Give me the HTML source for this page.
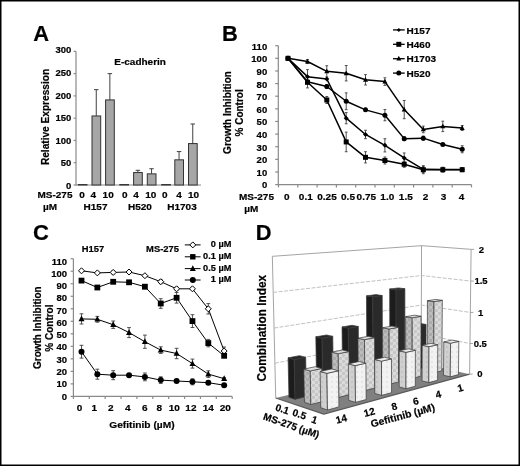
<!DOCTYPE html>
<html><head><meta charset="utf-8"><style>
html,body{margin:0;padding:0;background:#fff;}
#f{position:relative;width:520px;height:466px;overflow:hidden;background:#fff;}
svg{position:absolute;left:0;top:0;}
text{font-family:"Liberation Sans",sans-serif;font-weight:bold;fill:#000;stroke:#000;stroke-width:0.2px;}
svg{will-change:transform;}
</style></head><body><div id="f">
<svg width="520" height="466" viewBox="0 0 520 466">
<rect x="0.75" y="0.75" width="518.5" height="464.5" fill="#fff" stroke="#000" stroke-width="1.5"/>
<text x="33.25" y="40.80" font-size="21.9" text-anchor="start">A</text>
<line x1="76.00" y1="51.35" x2="76.00" y2="185.50" stroke="#8a8a8a" stroke-width="1.2"/>
<line x1="76.00" y1="185.00" x2="201.00" y2="185.00" stroke="#8a8a8a" stroke-width="1.2"/>
<line x1="73.60" y1="185.00" x2="76.00" y2="185.00" stroke="#8a8a8a" stroke-width="1.2"/>
<text x="71.30" y="189.05" font-size="9.5" text-anchor="end">0</text>
<line x1="73.60" y1="162.72" x2="76.00" y2="162.72" stroke="#8a8a8a" stroke-width="1.2"/>
<text x="71.30" y="166.44" font-size="9.5" text-anchor="end">50</text>
<line x1="73.60" y1="140.45" x2="76.00" y2="140.45" stroke="#8a8a8a" stroke-width="1.2"/>
<text x="71.30" y="143.83" font-size="9.5" text-anchor="end">100</text>
<line x1="73.60" y1="118.17" x2="76.00" y2="118.17" stroke="#8a8a8a" stroke-width="1.2"/>
<text x="71.30" y="121.22" font-size="9.5" text-anchor="end">150</text>
<line x1="73.60" y1="95.90" x2="76.00" y2="95.90" stroke="#8a8a8a" stroke-width="1.2"/>
<text x="71.30" y="98.61" font-size="9.5" text-anchor="end">200</text>
<line x1="73.60" y1="73.62" x2="76.00" y2="73.62" stroke="#8a8a8a" stroke-width="1.2"/>
<text x="71.30" y="76.00" font-size="9.5" text-anchor="end">250</text>
<line x1="73.60" y1="51.35" x2="76.00" y2="51.35" stroke="#8a8a8a" stroke-width="1.2"/>
<text x="71.30" y="53.39" font-size="9.5" text-anchor="end">300</text>
<text x="45.60" y="117.00" font-size="10.15" text-anchor="middle" transform="rotate(-90 45.6 117)" dy="3.5">Relative Expression</text>
<text transform="translate(114.30,64.50) scale(1,0.92)" font-size="10" text-anchor="start">E-cadherin</text>
<rect x="78.30" y="184.55" width="8.70" height="0.45" fill="#a6a6a6" stroke="#333" stroke-width="1"/>
<line x1="96.25" y1="89.66" x2="96.25" y2="115.95" stroke="#404040" stroke-width="1"/>
<line x1="94.00" y1="89.66" x2="98.50" y2="89.66" stroke="#404040" stroke-width="1"/>
<rect x="92.00" y="115.95" width="8.70" height="69.05" fill="#a6a6a6" stroke="#333" stroke-width="1"/>
<line x1="109.85" y1="73.62" x2="109.85" y2="99.91" stroke="#404040" stroke-width="1"/>
<line x1="107.60" y1="73.62" x2="112.10" y2="73.62" stroke="#404040" stroke-width="1"/>
<rect x="105.60" y="99.91" width="8.70" height="85.09" fill="#a6a6a6" stroke="#333" stroke-width="1"/>
<rect x="119.80" y="184.55" width="8.70" height="0.45" fill="#a6a6a6" stroke="#333" stroke-width="1"/>
<line x1="137.85" y1="170.30" x2="137.85" y2="172.53" stroke="#404040" stroke-width="1"/>
<line x1="135.60" y1="170.30" x2="140.10" y2="170.30" stroke="#404040" stroke-width="1"/>
<rect x="133.60" y="172.53" width="8.70" height="12.47" fill="#a6a6a6" stroke="#333" stroke-width="1"/>
<line x1="151.55" y1="168.74" x2="151.55" y2="173.86" stroke="#404040" stroke-width="1"/>
<line x1="149.30" y1="168.74" x2="153.80" y2="168.74" stroke="#404040" stroke-width="1"/>
<rect x="147.30" y="173.86" width="8.70" height="11.14" fill="#a6a6a6" stroke="#333" stroke-width="1"/>
<rect x="161.70" y="184.55" width="8.70" height="0.45" fill="#a6a6a6" stroke="#333" stroke-width="1"/>
<line x1="179.05" y1="151.59" x2="179.05" y2="159.83" stroke="#404040" stroke-width="1"/>
<line x1="176.80" y1="151.59" x2="181.30" y2="151.59" stroke="#404040" stroke-width="1"/>
<rect x="174.80" y="159.83" width="8.70" height="25.17" fill="#a6a6a6" stroke="#333" stroke-width="1"/>
<line x1="192.75" y1="123.97" x2="192.75" y2="143.57" stroke="#404040" stroke-width="1"/>
<line x1="190.50" y1="123.97" x2="195.00" y2="123.97" stroke="#404040" stroke-width="1"/>
<rect x="188.50" y="143.57" width="8.70" height="41.43" fill="#a6a6a6" stroke="#333" stroke-width="1"/>
<text transform="translate(37.50,197.80) scale(1,0.92)" font-size="10" text-anchor="start">MS-275</text>
<text transform="translate(82.15,197.80) scale(1,0.92)" font-size="10" text-anchor="middle">0</text>
<text transform="translate(93.20,197.80) scale(1,0.92)" font-size="10" text-anchor="middle">4</text>
<text transform="translate(108.15,197.80) scale(1,0.92)" font-size="10" text-anchor="middle">10</text>
<text transform="translate(124.70,197.80) scale(1,0.92)" font-size="10" text-anchor="middle">0</text>
<text transform="translate(136.10,197.80) scale(1,0.92)" font-size="10" text-anchor="middle">4</text>
<text transform="translate(150.80,197.80) scale(1,0.92)" font-size="10" text-anchor="middle">10</text>
<text transform="translate(164.70,197.80) scale(1,0.92)" font-size="10" text-anchor="middle">0</text>
<text transform="translate(179.00,197.80) scale(1,0.92)" font-size="10" text-anchor="middle">4</text>
<text transform="translate(193.60,197.80) scale(1,0.92)" font-size="10" text-anchor="middle">10</text>
<text transform="translate(43.00,210.20) scale(1,0.92)" font-size="10" text-anchor="start">µM</text>
<text transform="translate(95.50,209.80) scale(1,0.92)" font-size="10" text-anchor="middle">H157</text>
<text transform="translate(139.90,209.80) scale(1,0.92)" font-size="10" text-anchor="middle">H520</text>
<text transform="translate(182.00,209.80) scale(1,0.92)" font-size="10" text-anchor="middle">H1703</text>
<text x="222.00" y="40.80" font-size="21.9" text-anchor="start">B</text>
<line x1="278.30" y1="45.70" x2="278.30" y2="185.20" stroke="#8a8a8a" stroke-width="1.2"/>
<line x1="278.30" y1="184.60" x2="471.50" y2="184.60" stroke="#8a8a8a" stroke-width="1.2"/>
<line x1="275.20" y1="184.60" x2="278.30" y2="184.60" stroke="#8a8a8a" stroke-width="1.2"/>
<text x="267.20" y="188.40" font-size="9.5" text-anchor="end">0</text>
<line x1="275.20" y1="171.97" x2="278.30" y2="171.97" stroke="#8a8a8a" stroke-width="1.2"/>
<text x="267.20" y="175.79" font-size="9.5" text-anchor="end">10</text>
<line x1="275.20" y1="159.35" x2="278.30" y2="159.35" stroke="#8a8a8a" stroke-width="1.2"/>
<text x="267.20" y="163.18" font-size="9.5" text-anchor="end">20</text>
<line x1="275.20" y1="146.72" x2="278.30" y2="146.72" stroke="#8a8a8a" stroke-width="1.2"/>
<text x="267.20" y="150.57" font-size="9.5" text-anchor="end">30</text>
<line x1="275.20" y1="134.09" x2="278.30" y2="134.09" stroke="#8a8a8a" stroke-width="1.2"/>
<text x="267.20" y="137.96" font-size="9.5" text-anchor="end">40</text>
<line x1="275.20" y1="121.47" x2="278.30" y2="121.47" stroke="#8a8a8a" stroke-width="1.2"/>
<text x="267.20" y="125.36" font-size="9.5" text-anchor="end">50</text>
<line x1="275.20" y1="108.84" x2="278.30" y2="108.84" stroke="#8a8a8a" stroke-width="1.2"/>
<text x="267.20" y="112.75" font-size="9.5" text-anchor="end">60</text>
<line x1="275.20" y1="96.21" x2="278.30" y2="96.21" stroke="#8a8a8a" stroke-width="1.2"/>
<text x="267.20" y="100.14" font-size="9.5" text-anchor="end">70</text>
<line x1="275.20" y1="83.58" x2="278.30" y2="83.58" stroke="#8a8a8a" stroke-width="1.2"/>
<text x="267.20" y="87.53" font-size="9.5" text-anchor="end">80</text>
<line x1="275.20" y1="70.96" x2="278.30" y2="70.96" stroke="#8a8a8a" stroke-width="1.2"/>
<text x="267.20" y="74.92" font-size="9.5" text-anchor="end">90</text>
<line x1="275.20" y1="58.33" x2="278.30" y2="58.33" stroke="#8a8a8a" stroke-width="1.2"/>
<text x="267.20" y="62.31" font-size="9.5" text-anchor="end">100</text>
<line x1="275.20" y1="45.70" x2="278.30" y2="45.70" stroke="#8a8a8a" stroke-width="1.2"/>
<text x="267.20" y="49.70" font-size="9.5" text-anchor="end">110</text>
<line x1="278.50" y1="184.60" x2="278.50" y2="187.40" stroke="#8a8a8a" stroke-width="1.2"/>
<line x1="297.80" y1="184.60" x2="297.80" y2="187.40" stroke="#8a8a8a" stroke-width="1.2"/>
<line x1="317.10" y1="184.60" x2="317.10" y2="187.40" stroke="#8a8a8a" stroke-width="1.2"/>
<line x1="336.40" y1="184.60" x2="336.40" y2="187.40" stroke="#8a8a8a" stroke-width="1.2"/>
<line x1="355.70" y1="184.60" x2="355.70" y2="187.40" stroke="#8a8a8a" stroke-width="1.2"/>
<line x1="375.00" y1="184.60" x2="375.00" y2="187.40" stroke="#8a8a8a" stroke-width="1.2"/>
<line x1="394.30" y1="184.60" x2="394.30" y2="187.40" stroke="#8a8a8a" stroke-width="1.2"/>
<line x1="413.60" y1="184.60" x2="413.60" y2="187.40" stroke="#8a8a8a" stroke-width="1.2"/>
<line x1="432.90" y1="184.60" x2="432.90" y2="187.40" stroke="#8a8a8a" stroke-width="1.2"/>
<line x1="452.20" y1="184.60" x2="452.20" y2="187.40" stroke="#8a8a8a" stroke-width="1.2"/>
<line x1="471.50" y1="184.60" x2="471.50" y2="187.40" stroke="#8a8a8a" stroke-width="1.2"/>
<text transform="translate(286.80,200.00) scale(1,0.92)" font-size="10" text-anchor="middle">0</text>
<text transform="translate(305.80,200.00) scale(1,0.92)" font-size="10" text-anchor="middle">0.1</text>
<text transform="translate(327.00,200.00) scale(1,0.92)" font-size="10" text-anchor="middle">0.25</text>
<text transform="translate(348.00,200.00) scale(1,0.92)" font-size="10" text-anchor="middle">0.5</text>
<text transform="translate(366.30,200.00) scale(1,0.92)" font-size="10" text-anchor="middle">0.75</text>
<text transform="translate(387.30,200.00) scale(1,0.92)" font-size="10" text-anchor="middle">1.0</text>
<text transform="translate(405.80,200.00) scale(1,0.92)" font-size="10" text-anchor="middle">1.5</text>
<text transform="translate(425.50,200.00) scale(1,0.92)" font-size="10" text-anchor="middle">2</text>
<text transform="translate(443.50,200.00) scale(1,0.92)" font-size="10" text-anchor="middle">3</text>
<text transform="translate(461.60,200.00) scale(1,0.92)" font-size="10" text-anchor="middle">4</text>
<text transform="translate(239.00,200.00) scale(1,0.92)" font-size="10" text-anchor="start">MS-275</text>
<text transform="translate(244.30,212.30) scale(1,0.92)" font-size="10" text-anchor="start">µM</text>
<text x="227.60" y="112.50" font-size="10" text-anchor="middle" transform="rotate(-90 227.6 112.5)" dy="3.5">Growth Inhibition</text>
<text x="239.80" y="112.90" font-size="10" text-anchor="middle" transform="rotate(-90 239.8 112.9)" dy="3.5">% Control</text>
<line x1="307.50" y1="69.64" x2="307.50" y2="83.64" stroke="#404040" stroke-width="0.9"/>
<line x1="306.10" y1="69.64" x2="308.90" y2="69.64" stroke="#404040" stroke-width="0.9"/>
<line x1="306.10" y1="83.64" x2="308.90" y2="83.64" stroke="#404040" stroke-width="0.9"/>
<line x1="346.20" y1="112.58" x2="346.20" y2="123.78" stroke="#404040" stroke-width="0.9"/>
<line x1="344.80" y1="112.58" x2="347.60" y2="112.58" stroke="#404040" stroke-width="0.9"/>
<line x1="344.80" y1="123.78" x2="347.60" y2="123.78" stroke="#404040" stroke-width="0.9"/>
<line x1="365.50" y1="130.27" x2="365.50" y2="138.67" stroke="#404040" stroke-width="0.9"/>
<line x1="364.10" y1="130.27" x2="366.90" y2="130.27" stroke="#404040" stroke-width="0.9"/>
<line x1="364.10" y1="138.67" x2="366.90" y2="138.67" stroke="#404040" stroke-width="0.9"/>
<line x1="384.90" y1="138.73" x2="384.90" y2="151.93" stroke="#404040" stroke-width="0.9"/>
<line x1="383.50" y1="138.73" x2="386.30" y2="138.73" stroke="#404040" stroke-width="0.9"/>
<line x1="383.50" y1="151.93" x2="386.30" y2="151.93" stroke="#404040" stroke-width="0.9"/>
<line x1="404.20" y1="152.96" x2="404.20" y2="162.96" stroke="#404040" stroke-width="0.9"/>
<line x1="402.80" y1="152.96" x2="405.60" y2="152.96" stroke="#404040" stroke-width="0.9"/>
<line x1="402.80" y1="162.96" x2="405.60" y2="162.96" stroke="#404040" stroke-width="0.9"/>
<line x1="423.30" y1="166.32" x2="423.30" y2="172.32" stroke="#404040" stroke-width="0.9"/>
<line x1="421.90" y1="166.32" x2="424.70" y2="166.32" stroke="#404040" stroke-width="0.9"/>
<line x1="421.90" y1="172.32" x2="424.70" y2="172.32" stroke="#404040" stroke-width="0.9"/>
<line x1="307.50" y1="76.72" x2="307.50" y2="87.92" stroke="#404040" stroke-width="0.9"/>
<line x1="306.10" y1="76.72" x2="308.90" y2="76.72" stroke="#404040" stroke-width="0.9"/>
<line x1="306.10" y1="87.92" x2="308.90" y2="87.92" stroke="#404040" stroke-width="0.9"/>
<line x1="326.80" y1="96.50" x2="326.80" y2="103.50" stroke="#404040" stroke-width="0.9"/>
<line x1="325.40" y1="96.50" x2="328.20" y2="96.50" stroke="#404040" stroke-width="0.9"/>
<line x1="325.40" y1="103.50" x2="328.20" y2="103.50" stroke="#404040" stroke-width="0.9"/>
<line x1="346.20" y1="132.12" x2="346.20" y2="151.72" stroke="#404040" stroke-width="0.9"/>
<line x1="344.80" y1="132.12" x2="347.60" y2="132.12" stroke="#404040" stroke-width="0.9"/>
<line x1="344.80" y1="151.72" x2="347.60" y2="151.72" stroke="#404040" stroke-width="0.9"/>
<line x1="365.50" y1="151.73" x2="365.50" y2="162.93" stroke="#404040" stroke-width="0.9"/>
<line x1="364.10" y1="151.73" x2="366.90" y2="151.73" stroke="#404040" stroke-width="0.9"/>
<line x1="364.10" y1="162.93" x2="366.90" y2="162.93" stroke="#404040" stroke-width="0.9"/>
<line x1="384.90" y1="156.98" x2="384.90" y2="163.98" stroke="#404040" stroke-width="0.9"/>
<line x1="383.50" y1="156.98" x2="386.30" y2="156.98" stroke="#404040" stroke-width="0.9"/>
<line x1="383.50" y1="163.98" x2="386.30" y2="163.98" stroke="#404040" stroke-width="0.9"/>
<line x1="404.20" y1="161.27" x2="404.20" y2="167.27" stroke="#404040" stroke-width="0.9"/>
<line x1="402.80" y1="161.27" x2="405.60" y2="161.27" stroke="#404040" stroke-width="0.9"/>
<line x1="402.80" y1="167.27" x2="405.60" y2="167.27" stroke="#404040" stroke-width="0.9"/>
<line x1="423.30" y1="165.70" x2="423.30" y2="173.70" stroke="#404040" stroke-width="0.9"/>
<line x1="421.90" y1="165.70" x2="424.70" y2="165.70" stroke="#404040" stroke-width="0.9"/>
<line x1="421.90" y1="173.70" x2="424.70" y2="173.70" stroke="#404040" stroke-width="0.9"/>
<line x1="442.80" y1="167.20" x2="442.80" y2="172.20" stroke="#404040" stroke-width="0.9"/>
<line x1="441.40" y1="167.20" x2="444.20" y2="167.20" stroke="#404040" stroke-width="0.9"/>
<line x1="441.40" y1="172.20" x2="444.20" y2="172.20" stroke="#404040" stroke-width="0.9"/>
<line x1="462.20" y1="167.70" x2="462.20" y2="171.70" stroke="#404040" stroke-width="0.9"/>
<line x1="460.80" y1="167.70" x2="463.60" y2="167.70" stroke="#404040" stroke-width="0.9"/>
<line x1="460.80" y1="171.70" x2="463.60" y2="171.70" stroke="#404040" stroke-width="0.9"/>
<line x1="307.50" y1="59.49" x2="307.50" y2="63.49" stroke="#404040" stroke-width="0.9"/>
<line x1="306.10" y1="59.49" x2="308.90" y2="59.49" stroke="#404040" stroke-width="0.9"/>
<line x1="306.10" y1="63.49" x2="308.90" y2="63.49" stroke="#404040" stroke-width="0.9"/>
<line x1="326.80" y1="65.74" x2="326.80" y2="76.94" stroke="#404040" stroke-width="0.9"/>
<line x1="325.40" y1="65.74" x2="328.20" y2="65.74" stroke="#404040" stroke-width="0.9"/>
<line x1="325.40" y1="76.94" x2="328.20" y2="76.94" stroke="#404040" stroke-width="0.9"/>
<line x1="346.20" y1="65.53" x2="346.20" y2="80.93" stroke="#404040" stroke-width="0.9"/>
<line x1="344.80" y1="65.53" x2="347.60" y2="65.53" stroke="#404040" stroke-width="0.9"/>
<line x1="344.80" y1="80.93" x2="347.60" y2="80.93" stroke="#404040" stroke-width="0.9"/>
<line x1="365.50" y1="74.60" x2="365.50" y2="85.00" stroke="#404040" stroke-width="0.9"/>
<line x1="364.10" y1="74.60" x2="366.90" y2="74.60" stroke="#404040" stroke-width="0.9"/>
<line x1="364.10" y1="85.00" x2="366.90" y2="85.00" stroke="#404040" stroke-width="0.9"/>
<line x1="384.90" y1="77.76" x2="384.90" y2="85.36" stroke="#404040" stroke-width="0.9"/>
<line x1="383.50" y1="77.76" x2="386.30" y2="77.76" stroke="#404040" stroke-width="0.9"/>
<line x1="383.50" y1="85.36" x2="386.30" y2="85.36" stroke="#404040" stroke-width="0.9"/>
<line x1="404.20" y1="100.50" x2="404.20" y2="118.70" stroke="#404040" stroke-width="0.9"/>
<line x1="402.80" y1="100.50" x2="405.60" y2="100.50" stroke="#404040" stroke-width="0.9"/>
<line x1="402.80" y1="118.70" x2="405.60" y2="118.70" stroke="#404040" stroke-width="0.9"/>
<line x1="423.30" y1="126.12" x2="423.30" y2="132.72" stroke="#404040" stroke-width="0.9"/>
<line x1="421.90" y1="126.12" x2="424.70" y2="126.12" stroke="#404040" stroke-width="0.9"/>
<line x1="421.90" y1="132.72" x2="424.70" y2="132.72" stroke="#404040" stroke-width="0.9"/>
<line x1="442.80" y1="121.19" x2="442.80" y2="131.59" stroke="#404040" stroke-width="0.9"/>
<line x1="441.40" y1="121.19" x2="444.20" y2="121.19" stroke="#404040" stroke-width="0.9"/>
<line x1="441.40" y1="131.59" x2="444.20" y2="131.59" stroke="#404040" stroke-width="0.9"/>
<line x1="462.20" y1="125.53" x2="462.20" y2="130.53" stroke="#404040" stroke-width="0.9"/>
<line x1="460.80" y1="125.53" x2="463.60" y2="125.53" stroke="#404040" stroke-width="0.9"/>
<line x1="460.80" y1="130.53" x2="463.60" y2="130.53" stroke="#404040" stroke-width="0.9"/>
<line x1="326.80" y1="84.49" x2="326.80" y2="88.49" stroke="#404040" stroke-width="0.9"/>
<line x1="325.40" y1="84.49" x2="328.20" y2="84.49" stroke="#404040" stroke-width="0.9"/>
<line x1="325.40" y1="88.49" x2="328.20" y2="88.49" stroke="#404040" stroke-width="0.9"/>
<line x1="346.20" y1="92.86" x2="346.20" y2="109.66" stroke="#404040" stroke-width="0.9"/>
<line x1="344.80" y1="92.86" x2="347.60" y2="92.86" stroke="#404040" stroke-width="0.9"/>
<line x1="344.80" y1="109.66" x2="347.60" y2="109.66" stroke="#404040" stroke-width="0.9"/>
<line x1="365.50" y1="108.35" x2="365.50" y2="111.35" stroke="#404040" stroke-width="0.9"/>
<line x1="364.10" y1="108.35" x2="366.90" y2="108.35" stroke="#404040" stroke-width="0.9"/>
<line x1="364.10" y1="111.35" x2="366.90" y2="111.35" stroke="#404040" stroke-width="0.9"/>
<line x1="384.90" y1="109.55" x2="384.90" y2="120.75" stroke="#404040" stroke-width="0.9"/>
<line x1="383.50" y1="109.55" x2="386.30" y2="109.55" stroke="#404040" stroke-width="0.9"/>
<line x1="383.50" y1="120.75" x2="386.30" y2="120.75" stroke="#404040" stroke-width="0.9"/>
<line x1="404.20" y1="136.64" x2="404.20" y2="140.64" stroke="#404040" stroke-width="0.9"/>
<line x1="402.80" y1="136.64" x2="405.60" y2="136.64" stroke="#404040" stroke-width="0.9"/>
<line x1="402.80" y1="140.64" x2="405.60" y2="140.64" stroke="#404040" stroke-width="0.9"/>
<line x1="423.30" y1="136.13" x2="423.30" y2="140.13" stroke="#404040" stroke-width="0.9"/>
<line x1="421.90" y1="136.13" x2="424.70" y2="136.13" stroke="#404040" stroke-width="0.9"/>
<line x1="421.90" y1="140.13" x2="424.70" y2="140.13" stroke="#404040" stroke-width="0.9"/>
<line x1="442.80" y1="143.57" x2="442.80" y2="145.57" stroke="#404040" stroke-width="0.9"/>
<line x1="441.40" y1="143.57" x2="444.20" y2="143.57" stroke="#404040" stroke-width="0.9"/>
<line x1="441.40" y1="145.57" x2="444.20" y2="145.57" stroke="#404040" stroke-width="0.9"/>
<line x1="462.20" y1="145.74" x2="462.20" y2="152.74" stroke="#404040" stroke-width="0.9"/>
<line x1="460.80" y1="145.74" x2="463.60" y2="145.74" stroke="#404040" stroke-width="0.9"/>
<line x1="460.80" y1="152.74" x2="463.60" y2="152.74" stroke="#404040" stroke-width="0.9"/>
<polyline points="288.00,58.33 307.50,76.64 326.80,79.04 346.20,118.18 365.50,134.47 384.90,145.33 404.20,157.96 423.30,169.32 442.80,169.45 462.20,169.45" fill="none" stroke="#000" stroke-width="1.5" stroke-linejoin="round"/>
<polygon points="288.00,55.83 290.50,58.33 288.00,60.83 285.50,58.33" fill="#000" stroke="none" stroke-width="1" stroke-linejoin="round"/>
<polygon points="307.50,74.14 310.00,76.64 307.50,79.14 305.00,76.64" fill="#000" stroke="none" stroke-width="1" stroke-linejoin="round"/>
<polygon points="326.80,76.54 329.30,79.04 326.80,81.54 324.30,79.04" fill="#000" stroke="none" stroke-width="1" stroke-linejoin="round"/>
<polygon points="346.20,115.68 348.70,118.18 346.20,120.68 343.70,118.18" fill="#000" stroke="none" stroke-width="1" stroke-linejoin="round"/>
<polygon points="365.50,131.97 368.00,134.47 365.50,136.97 363.00,134.47" fill="#000" stroke="none" stroke-width="1" stroke-linejoin="round"/>
<polygon points="384.90,142.83 387.40,145.33 384.90,147.83 382.40,145.33" fill="#000" stroke="none" stroke-width="1" stroke-linejoin="round"/>
<polygon points="404.20,155.46 406.70,157.96 404.20,160.46 401.70,157.96" fill="#000" stroke="none" stroke-width="1" stroke-linejoin="round"/>
<polygon points="423.30,166.82 425.80,169.32 423.30,171.82 420.80,169.32" fill="#000" stroke="none" stroke-width="1" stroke-linejoin="round"/>
<polygon points="442.80,166.95 445.30,169.45 442.80,171.95 440.30,169.45" fill="#000" stroke="none" stroke-width="1" stroke-linejoin="round"/>
<polygon points="462.20,166.95 464.70,169.45 462.20,171.95 459.70,169.45" fill="#000" stroke="none" stroke-width="1" stroke-linejoin="round"/>
<polyline points="288.00,58.33 307.50,82.32 326.80,100.00 346.20,141.92 365.50,157.33 384.90,160.48 404.20,164.27 423.30,169.70 442.80,169.70 462.20,169.70" fill="none" stroke="#000" stroke-width="1.5" stroke-linejoin="round"/>
<rect x="285.50" y="55.83" width="5.00" height="5.00" fill="#000" stroke="none" stroke-width="1"/>
<rect x="305.00" y="79.82" width="5.00" height="5.00" fill="#000" stroke="none" stroke-width="1"/>
<rect x="324.30" y="97.50" width="5.00" height="5.00" fill="#000" stroke="none" stroke-width="1"/>
<rect x="343.70" y="139.42" width="5.00" height="5.00" fill="#000" stroke="none" stroke-width="1"/>
<rect x="363.00" y="154.83" width="5.00" height="5.00" fill="#000" stroke="none" stroke-width="1"/>
<rect x="382.40" y="157.98" width="5.00" height="5.00" fill="#000" stroke="none" stroke-width="1"/>
<rect x="401.70" y="161.77" width="5.00" height="5.00" fill="#000" stroke="none" stroke-width="1"/>
<rect x="420.80" y="167.20" width="5.00" height="5.00" fill="#000" stroke="none" stroke-width="1"/>
<rect x="440.30" y="167.20" width="5.00" height="5.00" fill="#000" stroke="none" stroke-width="1"/>
<rect x="459.70" y="167.20" width="5.00" height="5.00" fill="#000" stroke="none" stroke-width="1"/>
<polyline points="288.00,58.33 307.50,61.49 326.80,71.34 346.20,73.23 365.50,79.80 384.90,81.56 404.20,109.60 423.30,129.42 442.80,126.39 462.20,128.03" fill="none" stroke="#000" stroke-width="1.5" stroke-linejoin="round"/>
<polygon points="288.00,55.48 290.50,60.23 285.50,60.23" fill="#000" stroke="none" stroke-width="1" stroke-linejoin="round"/>
<polygon points="307.50,58.64 310.00,63.39 305.00,63.39" fill="#000" stroke="none" stroke-width="1" stroke-linejoin="round"/>
<polygon points="326.80,68.49 329.30,73.24 324.30,73.24" fill="#000" stroke="none" stroke-width="1" stroke-linejoin="round"/>
<polygon points="346.20,70.38 348.70,75.13 343.70,75.13" fill="#000" stroke="none" stroke-width="1" stroke-linejoin="round"/>
<polygon points="365.50,76.95 368.00,81.70 363.00,81.70" fill="#000" stroke="none" stroke-width="1" stroke-linejoin="round"/>
<polygon points="384.90,78.71 387.40,83.46 382.40,83.46" fill="#000" stroke="none" stroke-width="1" stroke-linejoin="round"/>
<polygon points="404.20,106.75 406.70,111.50 401.70,111.50" fill="#000" stroke="none" stroke-width="1" stroke-linejoin="round"/>
<polygon points="423.30,126.57 425.80,131.32 420.80,131.32" fill="#000" stroke="none" stroke-width="1" stroke-linejoin="round"/>
<polygon points="442.80,123.54 445.30,128.29 440.30,128.29" fill="#000" stroke="none" stroke-width="1" stroke-linejoin="round"/>
<polygon points="462.20,125.18 464.70,129.93 459.70,129.93" fill="#000" stroke="none" stroke-width="1" stroke-linejoin="round"/>
<polyline points="288.00,58.33 307.50,81.82 326.80,86.49 346.20,101.26 365.50,109.85 384.90,115.15 404.20,138.64 423.30,138.13 442.80,144.57 462.20,149.24" fill="none" stroke="#000" stroke-width="1.5" stroke-linejoin="round"/>
<circle cx="288.00" cy="58.33" r="2.50" fill="#000"/>
<circle cx="307.50" cy="81.82" r="2.50" fill="#000"/>
<circle cx="326.80" cy="86.49" r="2.50" fill="#000"/>
<circle cx="346.20" cy="101.26" r="2.50" fill="#000"/>
<circle cx="365.50" cy="109.85" r="2.50" fill="#000"/>
<circle cx="384.90" cy="115.15" r="2.50" fill="#000"/>
<circle cx="404.20" cy="138.64" r="2.50" fill="#000"/>
<circle cx="423.30" cy="138.13" r="2.50" fill="#000"/>
<circle cx="442.80" cy="144.57" r="2.50" fill="#000"/>
<circle cx="462.20" cy="149.24" r="2.50" fill="#000"/>
<line x1="393.00" y1="29.90" x2="404.70" y2="29.90" stroke="#000" stroke-width="1.3"/>
<polygon points="398.80,27.90 400.80,29.90 398.80,31.90 396.80,29.90" fill="#000" stroke="none" stroke-width="1" stroke-linejoin="round"/>
<text transform="translate(406.60,33.50) scale(1,0.92)" font-size="10" text-anchor="start">H157</text>
<line x1="393.00" y1="44.30" x2="404.70" y2="44.30" stroke="#000" stroke-width="1.3"/>
<rect x="396.30" y="41.80" width="5.00" height="5.00" fill="#000" stroke="none" stroke-width="1"/>
<text transform="translate(406.60,47.90) scale(1,0.92)" font-size="10" text-anchor="start">H460</text>
<line x1="393.00" y1="58.70" x2="404.70" y2="58.70" stroke="#000" stroke-width="1.3"/>
<polygon points="398.80,55.85 401.30,60.60 396.30,60.60" fill="#000" stroke="none" stroke-width="1" stroke-linejoin="round"/>
<text transform="translate(406.60,62.30) scale(1,0.92)" font-size="10" text-anchor="start">H1703</text>
<line x1="393.00" y1="73.10" x2="404.70" y2="73.10" stroke="#000" stroke-width="1.3"/>
<circle cx="398.80" cy="73.10" r="2.50" fill="#000"/>
<text transform="translate(406.60,76.70) scale(1,0.92)" font-size="10" text-anchor="start">H520</text>
<text x="32.90" y="240.30" font-size="22" text-anchor="start">C</text>
<line x1="73.40" y1="258.70" x2="73.40" y2="397.00" stroke="#8a8a8a" stroke-width="1.2"/>
<line x1="73.40" y1="396.40" x2="232.20" y2="396.40" stroke="#8a8a8a" stroke-width="1.2"/>
<line x1="70.60" y1="396.40" x2="73.40" y2="396.40" stroke="#8a8a8a" stroke-width="1.2"/>
<text x="67.10" y="399.60" font-size="9.5" text-anchor="end">0</text>
<line x1="70.60" y1="383.88" x2="73.40" y2="383.88" stroke="#8a8a8a" stroke-width="1.2"/>
<text x="67.10" y="387.32" font-size="9.5" text-anchor="end">10</text>
<line x1="70.60" y1="371.36" x2="73.40" y2="371.36" stroke="#8a8a8a" stroke-width="1.2"/>
<text x="67.10" y="375.04" font-size="9.5" text-anchor="end">20</text>
<line x1="70.60" y1="358.85" x2="73.40" y2="358.85" stroke="#8a8a8a" stroke-width="1.2"/>
<text x="67.10" y="362.76" font-size="9.5" text-anchor="end">30</text>
<line x1="70.60" y1="346.33" x2="73.40" y2="346.33" stroke="#8a8a8a" stroke-width="1.2"/>
<text x="67.10" y="350.48" font-size="9.5" text-anchor="end">40</text>
<line x1="70.60" y1="333.81" x2="73.40" y2="333.81" stroke="#8a8a8a" stroke-width="1.2"/>
<text x="67.10" y="338.20" font-size="9.5" text-anchor="end">50</text>
<line x1="70.60" y1="321.29" x2="73.40" y2="321.29" stroke="#8a8a8a" stroke-width="1.2"/>
<text x="67.10" y="325.92" font-size="9.5" text-anchor="end">60</text>
<line x1="70.60" y1="308.77" x2="73.40" y2="308.77" stroke="#8a8a8a" stroke-width="1.2"/>
<text x="67.10" y="313.64" font-size="9.5" text-anchor="end">70</text>
<line x1="70.60" y1="296.26" x2="73.40" y2="296.26" stroke="#8a8a8a" stroke-width="1.2"/>
<text x="67.10" y="301.36" font-size="9.5" text-anchor="end">80</text>
<line x1="70.60" y1="283.74" x2="73.40" y2="283.74" stroke="#8a8a8a" stroke-width="1.2"/>
<text x="67.10" y="289.08" font-size="9.5" text-anchor="end">90</text>
<line x1="70.60" y1="271.22" x2="73.40" y2="271.22" stroke="#8a8a8a" stroke-width="1.2"/>
<text x="67.10" y="276.80" font-size="9.5" text-anchor="end">100</text>
<line x1="70.60" y1="258.70" x2="73.40" y2="258.70" stroke="#8a8a8a" stroke-width="1.2"/>
<text x="67.10" y="264.52" font-size="9.5" text-anchor="end">110</text>
<line x1="73.40" y1="396.40" x2="73.40" y2="398.90" stroke="#8a8a8a" stroke-width="1.2"/>
<line x1="89.28" y1="396.40" x2="89.28" y2="398.90" stroke="#8a8a8a" stroke-width="1.2"/>
<line x1="105.16" y1="396.40" x2="105.16" y2="398.90" stroke="#8a8a8a" stroke-width="1.2"/>
<line x1="121.04" y1="396.40" x2="121.04" y2="398.90" stroke="#8a8a8a" stroke-width="1.2"/>
<line x1="136.92" y1="396.40" x2="136.92" y2="398.90" stroke="#8a8a8a" stroke-width="1.2"/>
<line x1="152.80" y1="396.40" x2="152.80" y2="398.90" stroke="#8a8a8a" stroke-width="1.2"/>
<line x1="168.68" y1="396.40" x2="168.68" y2="398.90" stroke="#8a8a8a" stroke-width="1.2"/>
<line x1="184.56" y1="396.40" x2="184.56" y2="398.90" stroke="#8a8a8a" stroke-width="1.2"/>
<line x1="200.44" y1="396.40" x2="200.44" y2="398.90" stroke="#8a8a8a" stroke-width="1.2"/>
<line x1="216.32" y1="396.40" x2="216.32" y2="398.90" stroke="#8a8a8a" stroke-width="1.2"/>
<line x1="232.20" y1="396.40" x2="232.20" y2="398.90" stroke="#8a8a8a" stroke-width="1.2"/>
<text transform="translate(79.50,411.20) scale(1,0.92)" font-size="10" text-anchor="middle">0</text>
<text transform="translate(94.30,411.20) scale(1,0.92)" font-size="10" text-anchor="middle">1</text>
<text transform="translate(110.80,411.20) scale(1,0.92)" font-size="10" text-anchor="middle">2</text>
<text transform="translate(127.80,411.20) scale(1,0.92)" font-size="10" text-anchor="middle">4</text>
<text transform="translate(144.70,411.20) scale(1,0.92)" font-size="10" text-anchor="middle">6</text>
<text transform="translate(159.40,411.20) scale(1,0.92)" font-size="10" text-anchor="middle">8</text>
<text transform="translate(174.20,411.20) scale(1,0.92)" font-size="10" text-anchor="middle">10</text>
<text transform="translate(190.90,411.20) scale(1,0.92)" font-size="10" text-anchor="middle">12</text>
<text transform="translate(208.30,411.20) scale(1,0.92)" font-size="10" text-anchor="middle">14</text>
<text transform="translate(225.20,411.20) scale(1,0.92)" font-size="10" text-anchor="middle">20</text>
<text transform="translate(141.90,428.20) scale(1,0.92)" font-size="10.2" text-anchor="middle">Gefitinib (µM)</text>
<text x="37.80" y="327.65" font-size="10" text-anchor="middle" transform="rotate(-90 37.8 327.65)" dy="3.5">Growth Inhibition</text>
<text x="49.80" y="328.10" font-size="10" text-anchor="middle" transform="rotate(-90 49.8 328.1)" dy="3.5">% Control</text>
<text x="81.80" y="252.20" font-size="9.4" text-anchor="start">H157</text>
<text x="146.10" y="252.20" font-size="9.4" text-anchor="start">MS-275</text>
<line x1="113.20" y1="270.90" x2="113.20" y2="273.90" stroke="#404040" stroke-width="0.9"/>
<line x1="111.30" y1="270.90" x2="115.10" y2="270.90" stroke="#404040" stroke-width="0.9"/>
<line x1="111.30" y1="273.90" x2="115.10" y2="273.90" stroke="#404040" stroke-width="0.9"/>
<line x1="129.05" y1="270.50" x2="129.05" y2="273.50" stroke="#404040" stroke-width="0.9"/>
<line x1="127.15" y1="270.50" x2="130.95" y2="270.50" stroke="#404040" stroke-width="0.9"/>
<line x1="127.15" y1="273.50" x2="130.95" y2="273.50" stroke="#404040" stroke-width="0.9"/>
<line x1="160.75" y1="279.70" x2="160.75" y2="283.70" stroke="#404040" stroke-width="0.9"/>
<line x1="158.85" y1="279.70" x2="162.65" y2="279.70" stroke="#404040" stroke-width="0.9"/>
<line x1="158.85" y1="283.70" x2="162.65" y2="283.70" stroke="#404040" stroke-width="0.9"/>
<line x1="176.60" y1="287.30" x2="176.60" y2="290.30" stroke="#404040" stroke-width="0.9"/>
<line x1="174.70" y1="287.30" x2="178.50" y2="287.30" stroke="#404040" stroke-width="0.9"/>
<line x1="174.70" y1="290.30" x2="178.50" y2="290.30" stroke="#404040" stroke-width="0.9"/>
<line x1="208.30" y1="303.60" x2="208.30" y2="314.00" stroke="#404040" stroke-width="0.9"/>
<line x1="206.40" y1="303.60" x2="210.20" y2="303.60" stroke="#404040" stroke-width="0.9"/>
<line x1="206.40" y1="314.00" x2="210.20" y2="314.00" stroke="#404040" stroke-width="0.9"/>
<line x1="224.15" y1="347.00" x2="224.15" y2="355.00" stroke="#404040" stroke-width="0.9"/>
<line x1="222.25" y1="347.00" x2="226.05" y2="347.00" stroke="#404040" stroke-width="0.9"/>
<line x1="222.25" y1="355.00" x2="226.05" y2="355.00" stroke="#404040" stroke-width="0.9"/>
<line x1="81.50" y1="279.10" x2="81.50" y2="282.10" stroke="#404040" stroke-width="0.9"/>
<line x1="79.60" y1="279.10" x2="83.40" y2="279.10" stroke="#404040" stroke-width="0.9"/>
<line x1="79.60" y1="282.10" x2="83.40" y2="282.10" stroke="#404040" stroke-width="0.9"/>
<line x1="97.35" y1="286.00" x2="97.35" y2="289.00" stroke="#404040" stroke-width="0.9"/>
<line x1="95.45" y1="286.00" x2="99.25" y2="286.00" stroke="#404040" stroke-width="0.9"/>
<line x1="95.45" y1="289.00" x2="99.25" y2="289.00" stroke="#404040" stroke-width="0.9"/>
<line x1="144.90" y1="284.70" x2="144.90" y2="288.70" stroke="#404040" stroke-width="0.9"/>
<line x1="143.00" y1="284.70" x2="146.80" y2="284.70" stroke="#404040" stroke-width="0.9"/>
<line x1="143.00" y1="288.70" x2="146.80" y2="288.70" stroke="#404040" stroke-width="0.9"/>
<line x1="160.75" y1="298.70" x2="160.75" y2="308.30" stroke="#404040" stroke-width="0.9"/>
<line x1="158.85" y1="298.70" x2="162.65" y2="298.70" stroke="#404040" stroke-width="0.9"/>
<line x1="158.85" y1="308.30" x2="162.65" y2="308.30" stroke="#404040" stroke-width="0.9"/>
<line x1="176.60" y1="292.50" x2="176.60" y2="303.10" stroke="#404040" stroke-width="0.9"/>
<line x1="174.70" y1="292.50" x2="178.50" y2="292.50" stroke="#404040" stroke-width="0.9"/>
<line x1="174.70" y1="303.10" x2="178.50" y2="303.10" stroke="#404040" stroke-width="0.9"/>
<line x1="192.45" y1="314.70" x2="192.45" y2="327.50" stroke="#404040" stroke-width="0.9"/>
<line x1="190.55" y1="314.70" x2="194.35" y2="314.70" stroke="#404040" stroke-width="0.9"/>
<line x1="190.55" y1="327.50" x2="194.35" y2="327.50" stroke="#404040" stroke-width="0.9"/>
<line x1="208.30" y1="339.40" x2="208.30" y2="346.80" stroke="#404040" stroke-width="0.9"/>
<line x1="206.40" y1="339.40" x2="210.20" y2="339.40" stroke="#404040" stroke-width="0.9"/>
<line x1="206.40" y1="346.80" x2="210.20" y2="346.80" stroke="#404040" stroke-width="0.9"/>
<line x1="224.15" y1="354.80" x2="224.15" y2="356.80" stroke="#404040" stroke-width="0.9"/>
<line x1="222.25" y1="354.80" x2="226.05" y2="354.80" stroke="#404040" stroke-width="0.9"/>
<line x1="222.25" y1="356.80" x2="226.05" y2="356.80" stroke="#404040" stroke-width="0.9"/>
<line x1="81.50" y1="313.80" x2="81.50" y2="324.00" stroke="#404040" stroke-width="0.9"/>
<line x1="79.60" y1="313.80" x2="83.40" y2="313.80" stroke="#404040" stroke-width="0.9"/>
<line x1="79.60" y1="324.00" x2="83.40" y2="324.00" stroke="#404040" stroke-width="0.9"/>
<line x1="97.35" y1="316.40" x2="97.35" y2="322.20" stroke="#404040" stroke-width="0.9"/>
<line x1="95.45" y1="316.40" x2="99.25" y2="316.40" stroke="#404040" stroke-width="0.9"/>
<line x1="95.45" y1="322.20" x2="99.25" y2="322.20" stroke="#404040" stroke-width="0.9"/>
<line x1="113.20" y1="321.00" x2="113.20" y2="328.40" stroke="#404040" stroke-width="0.9"/>
<line x1="111.30" y1="321.00" x2="115.10" y2="321.00" stroke="#404040" stroke-width="0.9"/>
<line x1="111.30" y1="328.40" x2="115.10" y2="328.40" stroke="#404040" stroke-width="0.9"/>
<line x1="129.05" y1="327.60" x2="129.05" y2="337.60" stroke="#404040" stroke-width="0.9"/>
<line x1="127.15" y1="327.60" x2="130.95" y2="327.60" stroke="#404040" stroke-width="0.9"/>
<line x1="127.15" y1="337.60" x2="130.95" y2="337.60" stroke="#404040" stroke-width="0.9"/>
<line x1="144.90" y1="335.10" x2="144.90" y2="348.30" stroke="#404040" stroke-width="0.9"/>
<line x1="143.00" y1="335.10" x2="146.80" y2="335.10" stroke="#404040" stroke-width="0.9"/>
<line x1="143.00" y1="348.30" x2="146.80" y2="348.30" stroke="#404040" stroke-width="0.9"/>
<line x1="160.75" y1="346.80" x2="160.75" y2="353.40" stroke="#404040" stroke-width="0.9"/>
<line x1="158.85" y1="346.80" x2="162.65" y2="346.80" stroke="#404040" stroke-width="0.9"/>
<line x1="158.85" y1="353.40" x2="162.65" y2="353.40" stroke="#404040" stroke-width="0.9"/>
<line x1="176.60" y1="348.30" x2="176.60" y2="358.70" stroke="#404040" stroke-width="0.9"/>
<line x1="174.70" y1="348.30" x2="178.50" y2="348.30" stroke="#404040" stroke-width="0.9"/>
<line x1="174.70" y1="358.70" x2="178.50" y2="358.70" stroke="#404040" stroke-width="0.9"/>
<line x1="192.45" y1="359.10" x2="192.45" y2="368.10" stroke="#404040" stroke-width="0.9"/>
<line x1="190.55" y1="359.10" x2="194.35" y2="359.10" stroke="#404040" stroke-width="0.9"/>
<line x1="190.55" y1="368.10" x2="194.35" y2="368.10" stroke="#404040" stroke-width="0.9"/>
<line x1="208.30" y1="370.80" x2="208.30" y2="377.40" stroke="#404040" stroke-width="0.9"/>
<line x1="206.40" y1="370.80" x2="210.20" y2="370.80" stroke="#404040" stroke-width="0.9"/>
<line x1="206.40" y1="377.40" x2="210.20" y2="377.40" stroke="#404040" stroke-width="0.9"/>
<line x1="224.15" y1="377.70" x2="224.15" y2="379.70" stroke="#404040" stroke-width="0.9"/>
<line x1="222.25" y1="377.70" x2="226.05" y2="377.70" stroke="#404040" stroke-width="0.9"/>
<line x1="222.25" y1="379.70" x2="226.05" y2="379.70" stroke="#404040" stroke-width="0.9"/>
<line x1="81.50" y1="345.30" x2="81.50" y2="358.10" stroke="#404040" stroke-width="0.9"/>
<line x1="79.60" y1="345.30" x2="83.40" y2="345.30" stroke="#404040" stroke-width="0.9"/>
<line x1="79.60" y1="358.10" x2="83.40" y2="358.10" stroke="#404040" stroke-width="0.9"/>
<line x1="97.35" y1="369.20" x2="97.35" y2="379.20" stroke="#404040" stroke-width="0.9"/>
<line x1="95.45" y1="369.20" x2="99.25" y2="369.20" stroke="#404040" stroke-width="0.9"/>
<line x1="95.45" y1="379.20" x2="99.25" y2="379.20" stroke="#404040" stroke-width="0.9"/>
<line x1="113.20" y1="370.70" x2="113.20" y2="379.70" stroke="#404040" stroke-width="0.9"/>
<line x1="111.30" y1="370.70" x2="115.10" y2="370.70" stroke="#404040" stroke-width="0.9"/>
<line x1="111.30" y1="379.70" x2="115.10" y2="379.70" stroke="#404040" stroke-width="0.9"/>
<line x1="144.90" y1="373.00" x2="144.90" y2="380.80" stroke="#404040" stroke-width="0.9"/>
<line x1="143.00" y1="373.00" x2="146.80" y2="373.00" stroke="#404040" stroke-width="0.9"/>
<line x1="143.00" y1="380.80" x2="146.80" y2="380.80" stroke="#404040" stroke-width="0.9"/>
<line x1="160.75" y1="376.80" x2="160.75" y2="383.40" stroke="#404040" stroke-width="0.9"/>
<line x1="158.85" y1="376.80" x2="162.65" y2="376.80" stroke="#404040" stroke-width="0.9"/>
<line x1="158.85" y1="383.40" x2="162.65" y2="383.40" stroke="#404040" stroke-width="0.9"/>
<line x1="176.60" y1="379.50" x2="176.60" y2="382.50" stroke="#404040" stroke-width="0.9"/>
<line x1="174.70" y1="379.50" x2="178.50" y2="379.50" stroke="#404040" stroke-width="0.9"/>
<line x1="174.70" y1="382.50" x2="178.50" y2="382.50" stroke="#404040" stroke-width="0.9"/>
<line x1="192.45" y1="378.80" x2="192.45" y2="384.80" stroke="#404040" stroke-width="0.9"/>
<line x1="190.55" y1="378.80" x2="194.35" y2="378.80" stroke="#404040" stroke-width="0.9"/>
<line x1="190.55" y1="384.80" x2="194.35" y2="384.80" stroke="#404040" stroke-width="0.9"/>
<line x1="208.30" y1="381.20" x2="208.30" y2="384.20" stroke="#404040" stroke-width="0.9"/>
<line x1="206.40" y1="381.20" x2="210.20" y2="381.20" stroke="#404040" stroke-width="0.9"/>
<line x1="206.40" y1="384.20" x2="210.20" y2="384.20" stroke="#404040" stroke-width="0.9"/>
<polyline points="81.50,270.80 97.35,272.90 113.20,272.40 129.05,272.00 144.90,275.70 160.75,281.70 176.60,288.80 192.45,288.80 208.30,308.80 224.15,351.00" fill="none" stroke="#000" stroke-width="1" stroke-linejoin="round"/>
<polygon points="81.50,267.80 84.50,270.80 81.50,273.80 78.50,270.80" fill="#fff" stroke="#000" stroke-width="1" stroke-linejoin="round"/>
<polygon points="97.35,269.90 100.35,272.90 97.35,275.90 94.35,272.90" fill="#fff" stroke="#000" stroke-width="1" stroke-linejoin="round"/>
<polygon points="113.20,269.40 116.20,272.40 113.20,275.40 110.20,272.40" fill="#fff" stroke="#000" stroke-width="1" stroke-linejoin="round"/>
<polygon points="129.05,269.00 132.05,272.00 129.05,275.00 126.05,272.00" fill="#fff" stroke="#000" stroke-width="1" stroke-linejoin="round"/>
<polygon points="144.90,272.70 147.90,275.70 144.90,278.70 141.90,275.70" fill="#fff" stroke="#000" stroke-width="1" stroke-linejoin="round"/>
<polygon points="160.75,278.70 163.75,281.70 160.75,284.70 157.75,281.70" fill="#fff" stroke="#000" stroke-width="1" stroke-linejoin="round"/>
<polygon points="176.60,285.80 179.60,288.80 176.60,291.80 173.60,288.80" fill="#fff" stroke="#000" stroke-width="1" stroke-linejoin="round"/>
<polygon points="192.45,285.80 195.45,288.80 192.45,291.80 189.45,288.80" fill="#fff" stroke="#000" stroke-width="1" stroke-linejoin="round"/>
<polygon points="208.30,305.80 211.30,308.80 208.30,311.80 205.30,308.80" fill="#fff" stroke="#000" stroke-width="1" stroke-linejoin="round"/>
<polygon points="224.15,348.00 227.15,351.00 224.15,354.00 221.15,351.00" fill="#fff" stroke="#000" stroke-width="1" stroke-linejoin="round"/>
<polyline points="81.50,280.60 97.35,287.50 113.20,281.80 129.05,282.30 144.90,286.70 160.75,303.50 176.60,297.80 192.45,321.10 208.30,343.10 224.15,355.80" fill="none" stroke="#000" stroke-width="1" stroke-linejoin="round"/>
<rect x="78.60" y="277.70" width="5.80" height="5.80" fill="#000" stroke="none" stroke-width="1"/>
<rect x="94.45" y="284.60" width="5.80" height="5.80" fill="#000" stroke="none" stroke-width="1"/>
<rect x="110.30" y="278.90" width="5.80" height="5.80" fill="#000" stroke="none" stroke-width="1"/>
<rect x="126.15" y="279.40" width="5.80" height="5.80" fill="#000" stroke="none" stroke-width="1"/>
<rect x="142.00" y="283.80" width="5.80" height="5.80" fill="#000" stroke="none" stroke-width="1"/>
<rect x="157.85" y="300.60" width="5.80" height="5.80" fill="#000" stroke="none" stroke-width="1"/>
<rect x="173.70" y="294.90" width="5.80" height="5.80" fill="#000" stroke="none" stroke-width="1"/>
<rect x="189.55" y="318.20" width="5.80" height="5.80" fill="#000" stroke="none" stroke-width="1"/>
<rect x="205.40" y="340.20" width="5.80" height="5.80" fill="#000" stroke="none" stroke-width="1"/>
<rect x="221.25" y="352.90" width="5.80" height="5.80" fill="#000" stroke="none" stroke-width="1"/>
<polyline points="81.50,318.90 97.35,319.30 113.20,324.70 129.05,332.60 144.90,341.70 160.75,350.10 176.60,353.50 192.45,363.60 208.30,374.10 224.15,378.70" fill="none" stroke="#000" stroke-width="1" stroke-linejoin="round"/>
<polygon points="81.50,315.48 84.50,321.18 78.50,321.18" fill="#000" stroke="none" stroke-width="1" stroke-linejoin="round"/>
<polygon points="97.35,315.88 100.35,321.58 94.35,321.58" fill="#000" stroke="none" stroke-width="1" stroke-linejoin="round"/>
<polygon points="113.20,321.28 116.20,326.98 110.20,326.98" fill="#000" stroke="none" stroke-width="1" stroke-linejoin="round"/>
<polygon points="129.05,329.18 132.05,334.88 126.05,334.88" fill="#000" stroke="none" stroke-width="1" stroke-linejoin="round"/>
<polygon points="144.90,338.28 147.90,343.98 141.90,343.98" fill="#000" stroke="none" stroke-width="1" stroke-linejoin="round"/>
<polygon points="160.75,346.68 163.75,352.38 157.75,352.38" fill="#000" stroke="none" stroke-width="1" stroke-linejoin="round"/>
<polygon points="176.60,350.08 179.60,355.78 173.60,355.78" fill="#000" stroke="none" stroke-width="1" stroke-linejoin="round"/>
<polygon points="192.45,360.18 195.45,365.88 189.45,365.88" fill="#000" stroke="none" stroke-width="1" stroke-linejoin="round"/>
<polygon points="208.30,370.68 211.30,376.38 205.30,376.38" fill="#000" stroke="none" stroke-width="1" stroke-linejoin="round"/>
<polygon points="224.15,375.28 227.15,380.98 221.15,380.98" fill="#000" stroke="none" stroke-width="1" stroke-linejoin="round"/>
<polyline points="81.50,351.70 97.35,374.20 113.20,375.20 129.05,375.20 144.90,376.90 160.75,380.10 176.60,381.00 192.45,381.80 208.30,382.70 224.15,385.20" fill="none" stroke="#000" stroke-width="1" stroke-linejoin="round"/>
<circle cx="81.50" cy="351.70" r="3.00" fill="#000"/>
<circle cx="97.35" cy="374.20" r="3.00" fill="#000"/>
<circle cx="113.20" cy="375.20" r="3.00" fill="#000"/>
<circle cx="129.05" cy="375.20" r="3.00" fill="#000"/>
<circle cx="144.90" cy="376.90" r="3.00" fill="#000"/>
<circle cx="160.75" cy="380.10" r="3.00" fill="#000"/>
<circle cx="176.60" cy="381.00" r="3.00" fill="#000"/>
<circle cx="192.45" cy="381.80" r="3.00" fill="#000"/>
<circle cx="208.30" cy="382.70" r="3.00" fill="#000"/>
<circle cx="224.15" cy="385.20" r="3.00" fill="#000"/>
<line x1="184.80" y1="244.90" x2="200.60" y2="244.90" stroke="#000" stroke-width="1"/>
<polygon points="192.80,241.90 195.80,244.90 192.80,247.90 189.80,244.90" fill="#fff" stroke="#000" stroke-width="1" stroke-linejoin="round"/>
<text x="231.40" y="247.20" font-size="9.2" text-anchor="end">0 µM</text>
<line x1="184.80" y1="256.80" x2="200.60" y2="256.80" stroke="#000" stroke-width="1"/>
<rect x="190.10" y="254.10" width="5.40" height="5.40" fill="#000" stroke="none" stroke-width="1"/>
<text x="231.40" y="259.10" font-size="9.2" text-anchor="end">0.1 µM</text>
<line x1="184.80" y1="268.60" x2="200.60" y2="268.60" stroke="#000" stroke-width="1"/>
<polygon points="192.80,265.18 195.80,270.88 189.80,270.88" fill="#000" stroke="none" stroke-width="1" stroke-linejoin="round"/>
<text x="231.40" y="270.90" font-size="9.2" text-anchor="end">0.5 µM</text>
<line x1="184.80" y1="280.00" x2="200.60" y2="280.00" stroke="#000" stroke-width="1"/>
<circle cx="192.80" cy="280.00" r="3.00" fill="#000"/>
<text x="231.40" y="282.30" font-size="9.2" text-anchor="end">1 µM</text>
<text x="255.70" y="239.90" font-size="21.8" text-anchor="start">D</text>
<polygon points="275.73,397.96 421.17,363.17 469.60,374.14 323.79,414.07" fill="#808080" stroke="none" stroke-width="1" stroke-linejoin="round"/>
<polyline points="275.73,397.96 323.79,414.07 469.60,374.14" fill="none" stroke="#5a5a5a" stroke-width="1.2" stroke-linejoin="round"/>
<polyline points="275.73,397.96 272.33,256.32 421.54,245.67 471.12,249.33 469.60,374.14" fill="none" stroke="#9a9a9a" stroke-width="0.9" stroke-linejoin="round"/>
<line x1="421.54" y1="245.67" x2="421.17" y2="363.17" stroke="#9a9a9a" stroke-width="0.9"/>
<polyline points="274.89,363.24 421.26,334.27 469.97,343.47" fill="none" stroke="#bababa" stroke-width="0.9" stroke-linejoin="round" stroke-dasharray="4,1.5"/>
<polyline points="274.05,328.06 421.35,305.05 470.35,312.45" fill="none" stroke="#bababa" stroke-width="0.9" stroke-linejoin="round" stroke-dasharray="4,1.5"/>
<polyline points="273.20,292.43 421.44,275.52 470.73,281.07" fill="none" stroke="#bababa" stroke-width="0.9" stroke-linejoin="round" stroke-dasharray="4,1.5"/>
<line x1="469.60" y1="374.14" x2="472.60" y2="374.14" stroke="#9a9a9a" stroke-width="0.9"/>
<text x="479.90" y="377.34" font-size="9.5" text-anchor="middle">0</text>
<line x1="469.97" y1="343.47" x2="472.97" y2="343.47" stroke="#9a9a9a" stroke-width="0.9"/>
<text x="480.27" y="346.67" font-size="9.5" text-anchor="middle">0.5</text>
<line x1="470.35" y1="312.45" x2="473.35" y2="312.45" stroke="#9a9a9a" stroke-width="0.9"/>
<text x="480.65" y="315.65" font-size="9.5" text-anchor="middle">1</text>
<line x1="470.73" y1="281.07" x2="473.73" y2="281.07" stroke="#9a9a9a" stroke-width="0.9"/>
<text x="481.03" y="284.27" font-size="9.5" text-anchor="middle">1.5</text>
<line x1="471.12" y1="249.33" x2="474.12" y2="249.33" stroke="#9a9a9a" stroke-width="0.9"/>
<text x="481.42" y="252.53" font-size="9.5" text-anchor="middle">2</text>
<defs>
<pattern id="chkL" width="6" height="6" patternUnits="userSpaceOnUse"><rect width="6" height="6" fill="#bebebe"/><circle cx="1.5" cy="1.5" r="1.7" fill="#aaaaaa"/><circle cx="4.5" cy="4.5" r="1.7" fill="#aaaaaa"/></pattern>
<pattern id="chkR" width="6" height="6" patternUnits="userSpaceOnUse"><rect width="6" height="6" fill="#dcdcdc"/><circle cx="1.5" cy="1.5" r="1.7" fill="#c6c6c6"/><circle cx="4.5" cy="4.5" r="1.7" fill="#c6c6c6"/></pattern>
<pattern id="dotL" width="5" height="5" patternUnits="userSpaceOnUse"><rect width="5" height="5" fill="#d0d0d0"/><rect x="1" y="1" width="2" height="2" fill="#c4c4c4"/></pattern>
<pattern id="dotR" width="5" height="5" patternUnits="userSpaceOnUse"><rect width="5" height="5" fill="#f2f2f2"/><rect x="1" y="1" width="2" height="2" fill="#e6e6e6"/></pattern>
</defs>
<polygon points="288.93,397.36 295.04,399.36 294.23,359.50 288.08,357.86" fill="#1c1c1c" stroke="#3a3a3a" stroke-width="0.7" stroke-linejoin="round"/>
<polygon points="295.04,399.36 306.40,396.56 305.68,357.23 294.23,359.50" fill="#2a2a2a" stroke="#3a3a3a" stroke-width="0.7" stroke-linejoin="round"/>
<polygon points="288.08,357.86 294.23,359.50 305.68,357.23 299.51,355.64" fill="#262626" stroke="#3a3a3a" stroke-width="0.7" stroke-linejoin="round"/>
<polygon points="316.70,390.63 322.86,392.50 322.04,338.23 315.82,336.84" fill="#1c1c1c" stroke="#3a3a3a" stroke-width="0.7" stroke-linejoin="round"/>
<polygon points="322.86,392.50 333.47,389.88 332.77,336.31 322.04,338.23" fill="#2a2a2a" stroke="#3a3a3a" stroke-width="0.7" stroke-linejoin="round"/>
<polygon points="315.82,336.84 322.04,338.23 332.77,336.31 326.53,334.96" fill="#262626" stroke="#3a3a3a" stroke-width="0.7" stroke-linejoin="round"/>
<polygon points="342.67,384.34 348.87,386.09 348.27,328.23 342.02,326.97" fill="#1c1c1c" stroke="#3a3a3a" stroke-width="0.7" stroke-linejoin="round"/>
<polygon points="348.87,386.09 358.80,383.64 358.32,326.50 348.27,328.23" fill="#2a2a2a" stroke="#3a3a3a" stroke-width="0.7" stroke-linejoin="round"/>
<polygon points="342.02,326.97 348.27,328.23 358.32,326.50 352.05,325.28" fill="#262626" stroke="#3a3a3a" stroke-width="0.7" stroke-linejoin="round"/>
<polygon points="367.02,378.44 373.24,380.08 372.76,296.82 366.45,295.88" fill="#1c1c1c" stroke="#3a3a3a" stroke-width="0.7" stroke-linejoin="round"/>
<polygon points="373.24,380.08 382.56,377.79 382.23,295.54 372.76,296.82" fill="#2a2a2a" stroke="#3a3a3a" stroke-width="0.7" stroke-linejoin="round"/>
<polygon points="366.45,295.88 372.76,296.82 382.23,295.54 375.92,294.62" fill="#262626" stroke="#3a3a3a" stroke-width="0.7" stroke-linejoin="round"/>
<polygon points="389.89,372.89 396.11,374.45 395.99,289.90 389.67,289.04" fill="#1c1c1c" stroke="#3a3a3a" stroke-width="0.7" stroke-linejoin="round"/>
<polygon points="396.11,374.45 404.87,372.29 404.89,288.74 395.99,289.90" fill="#2a2a2a" stroke="#3a3a3a" stroke-width="0.7" stroke-linejoin="round"/>
<polygon points="389.67,289.04 395.99,289.90 404.89,288.74 398.58,287.90" fill="#262626" stroke="#3a3a3a" stroke-width="0.7" stroke-linejoin="round"/>
<polygon points="411.42,367.68 417.63,369.14 417.74,326.00 411.48,324.88" fill="#1c1c1c" stroke="#3a3a3a" stroke-width="0.7" stroke-linejoin="round"/>
<polygon points="417.63,369.14 425.88,367.11 426.06,324.46 417.74,326.00" fill="#2a2a2a" stroke="#3a3a3a" stroke-width="0.7" stroke-linejoin="round"/>
<polygon points="411.48,324.88 417.74,326.00 426.06,324.46 419.80,323.36" fill="#262626" stroke="#3a3a3a" stroke-width="0.7" stroke-linejoin="round"/>
<polygon points="304.44,402.43 310.86,404.53 310.27,370.93 303.82,369.14" fill="url(#chkL)" stroke="#3a3a3a" stroke-width="0.7" stroke-linejoin="round"/>
<polygon points="310.86,404.53 322.27,401.59 321.76,368.45 310.27,370.93" fill="url(#chkR)" stroke="#3a3a3a" stroke-width="0.7" stroke-linejoin="round"/>
<polygon points="303.82,369.14 310.27,370.93 321.76,368.45 315.29,366.71" fill="#dedede" stroke="#3a3a3a" stroke-width="0.7" stroke-linejoin="round"/>
<polygon points="332.33,395.37 338.79,397.33 338.26,353.70 331.75,352.14" fill="url(#chkL)" stroke="#3a3a3a" stroke-width="0.7" stroke-linejoin="round"/>
<polygon points="338.79,397.33 349.43,394.59 348.99,351.54 338.26,353.70" fill="url(#chkR)" stroke="#3a3a3a" stroke-width="0.7" stroke-linejoin="round"/>
<polygon points="331.75,352.14 338.26,353.70 348.99,351.54 342.47,350.02" fill="#dedede" stroke="#3a3a3a" stroke-width="0.7" stroke-linejoin="round"/>
<polygon points="358.38,388.78 364.86,390.62 364.49,339.60 357.95,338.22" fill="url(#chkL)" stroke="#3a3a3a" stroke-width="0.7" stroke-linejoin="round"/>
<polygon points="364.86,390.62 374.81,388.05 374.54,337.69 364.49,339.60" fill="url(#chkR)" stroke="#3a3a3a" stroke-width="0.7" stroke-linejoin="round"/>
<polygon points="357.95,338.22 364.49,339.60 374.54,337.69 367.99,336.34" fill="#dedede" stroke="#3a3a3a" stroke-width="0.7" stroke-linejoin="round"/>
<polygon points="382.76,382.61 389.25,384.33 389.10,329.01 382.55,327.76" fill="url(#chkL)" stroke="#3a3a3a" stroke-width="0.7" stroke-linejoin="round"/>
<polygon points="389.25,384.33 398.58,381.93 398.52,327.29 389.10,329.01" fill="url(#chkR)" stroke="#3a3a3a" stroke-width="0.7" stroke-linejoin="round"/>
<polygon points="382.55,327.76 389.10,329.01 398.52,327.29 391.96,326.08" fill="#dedede" stroke="#3a3a3a" stroke-width="0.7" stroke-linejoin="round"/>
<polygon points="405.64,376.82 412.12,378.44 412.21,317.78 405.65,316.67" fill="url(#chkL)" stroke="#3a3a3a" stroke-width="0.7" stroke-linejoin="round"/>
<polygon points="412.12,378.44 420.87,376.18 421.06,316.26 412.21,317.78" fill="url(#chkR)" stroke="#3a3a3a" stroke-width="0.7" stroke-linejoin="round"/>
<polygon points="405.65,316.67 412.21,317.78 421.06,316.26 414.51,315.18" fill="#dedede" stroke="#3a3a3a" stroke-width="0.7" stroke-linejoin="round"/>
<polygon points="427.13,371.38 433.60,372.90 434.00,301.62 427.44,300.68" fill="url(#chkL)" stroke="#3a3a3a" stroke-width="0.7" stroke-linejoin="round"/>
<polygon points="433.60,372.90 441.84,370.78 442.33,300.34 434.00,301.62" fill="url(#chkR)" stroke="#3a3a3a" stroke-width="0.7" stroke-linejoin="round"/>
<polygon points="427.44,300.68 434.00,301.62 442.33,300.34 435.78,299.41" fill="#dedede" stroke="#3a3a3a" stroke-width="0.7" stroke-linejoin="round"/>
<polygon points="320.72,407.76 327.47,409.97 326.94,373.34 320.16,371.48" fill="url(#dotL)" stroke="#3a3a3a" stroke-width="0.7" stroke-linejoin="round"/>
<polygon points="327.47,409.97 338.92,406.88 338.48,370.76 326.94,373.34" fill="url(#dotR)" stroke="#3a3a3a" stroke-width="0.7" stroke-linejoin="round"/>
<polygon points="320.16,371.48 326.94,373.34 338.48,370.76 331.68,368.95" fill="#ededed" stroke="#3a3a3a" stroke-width="0.7" stroke-linejoin="round"/>
<polygon points="348.72,400.35 355.49,402.40 355.16,365.60 348.34,363.88" fill="url(#dotL)" stroke="#3a3a3a" stroke-width="0.7" stroke-linejoin="round"/>
<polygon points="355.49,402.40 366.16,399.53 365.90,363.22 355.16,365.60" fill="url(#dotR)" stroke="#3a3a3a" stroke-width="0.7" stroke-linejoin="round"/>
<polygon points="348.34,363.88 355.16,365.60 365.90,363.22 359.07,361.55" fill="#ededed" stroke="#3a3a3a" stroke-width="0.7" stroke-linejoin="round"/>
<polygon points="374.82,393.43 381.61,395.36 381.47,361.14 374.63,359.53" fill="url(#dotL)" stroke="#3a3a3a" stroke-width="0.7" stroke-linejoin="round"/>
<polygon points="381.61,395.36 391.56,392.67 391.48,358.90 381.47,361.14" fill="url(#dotR)" stroke="#3a3a3a" stroke-width="0.7" stroke-linejoin="round"/>
<polygon points="374.63,359.53 381.47,361.14 391.48,358.90 384.65,357.33" fill="#ededed" stroke="#3a3a3a" stroke-width="0.7" stroke-linejoin="round"/>
<polygon points="399.21,386.97 406.00,388.77 406.02,352.32 399.18,350.84" fill="url(#dotL)" stroke="#3a3a3a" stroke-width="0.7" stroke-linejoin="round"/>
<polygon points="406.00,388.77 415.31,386.26 415.39,350.27 406.02,352.32" fill="url(#dotR)" stroke="#3a3a3a" stroke-width="0.7" stroke-linejoin="round"/>
<polygon points="399.18,350.84 406.02,352.32 415.39,350.27 408.56,348.82" fill="#ededed" stroke="#3a3a3a" stroke-width="0.7" stroke-linejoin="round"/>
<polygon points="422.06,380.92 428.84,382.61 429.00,346.64 422.18,345.26" fill="url(#dotL)" stroke="#3a3a3a" stroke-width="0.7" stroke-linejoin="round"/>
<polygon points="428.84,382.61 437.57,380.25 437.79,344.72 429.00,346.64" fill="url(#dotR)" stroke="#3a3a3a" stroke-width="0.7" stroke-linejoin="round"/>
<polygon points="422.18,345.26 429.00,346.64 437.79,344.72 430.98,343.37" fill="#ededed" stroke="#3a3a3a" stroke-width="0.7" stroke-linejoin="round"/>
<polygon points="443.51,375.24 450.26,376.82 450.55,343.19 443.76,341.88" fill="url(#dotL)" stroke="#3a3a3a" stroke-width="0.7" stroke-linejoin="round"/>
<polygon points="450.26,376.82 458.46,374.61 458.80,341.38 450.55,343.19" fill="url(#dotR)" stroke="#3a3a3a" stroke-width="0.7" stroke-linejoin="round"/>
<polygon points="443.76,341.88 450.55,343.19 458.80,341.38 452.02,340.10" fill="#ededed" stroke="#3a3a3a" stroke-width="0.7" stroke-linejoin="round"/>
<text x="300.00" y="231.00" font-size="1" text-anchor="start"></text>
<text x="261.75" y="328.15" font-size="11.85" text-anchor="middle" transform="rotate(-90 261.75 328.15)" dy="4.15">Combination Index</text>
<text transform="translate(281.30,412.30) rotate(18)" font-size="10" text-anchor="middle">0.1</text>
<text transform="translate(298.40,417.50) rotate(18)" font-size="10" text-anchor="middle">0.5</text>
<text transform="translate(313.30,423.20) rotate(18)" font-size="10" text-anchor="middle">1</text>
<text transform="translate(262.60,419.30) rotate(19)" font-size="10" text-anchor="start">MS-275 (µM)</text>
<text transform="translate(342.20,422.20) rotate(-15)" font-size="10" text-anchor="middle">14</text>
<text transform="translate(370.20,415.60) rotate(-15)" font-size="10" text-anchor="middle">12</text>
<text transform="translate(395.20,409.80) rotate(-15)" font-size="10" text-anchor="middle">8</text>
<text transform="translate(416.80,404.50) rotate(-15)" font-size="10" text-anchor="middle">6</text>
<text transform="translate(439.20,397.80) rotate(-15)" font-size="10" text-anchor="middle">4</text>
<text transform="translate(461.20,391.30) rotate(-15)" font-size="10" text-anchor="middle">1</text>
<text transform="translate(403.60,419.00) rotate(-15)" font-size="10.3" text-anchor="middle">Gefitinib (µM)</text>
</svg></div></body></html>
